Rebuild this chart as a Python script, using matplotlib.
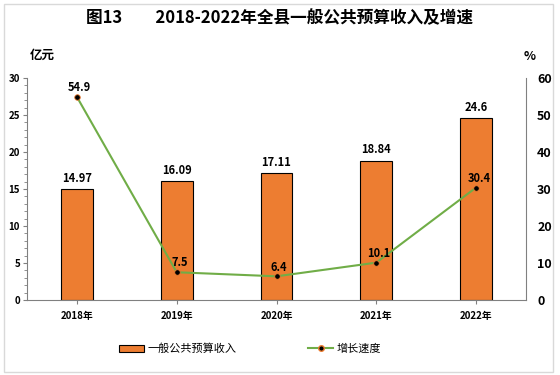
import matplotlib
matplotlib.use("Agg")
import matplotlib.pyplot as plt
from matplotlib.patches import Rectangle
from matplotlib.lines import Line2D
from matplotlib.ticker import MultipleLocator

plt.rcParams['font.family'] = ['Noto Sans CJK SC', 'DejaVu Sans']

years = ['2018年', '2019年', '2020年', '2021年', '2022年']
revenue = [14.97, 16.09, 17.11, 18.84, 24.6]
growth = [54.9, 7.5, 6.4, 10.1, 30.4]
rev_labels = ['14.97', '16.09', '17.11', '18.84', '24.6']
growth_labels = ['54.9', '7.5', '6.4', '10.1', '30.4']

fig = plt.figure(figsize=(5.6, 3.75), dpi=100)
fig.patches.append(Rectangle((4/560, 3/375), 549/560, 368/375, transform=fig.transFigure,
                             fill=False, edgecolor='#d9d9d9', lw=1))

ax = fig.add_axes([27/560, 1-300/375, 499/560, 222/375])
x = list(range(len(years)))
ax.bar(x, revenue, width=0.32, color='#ED7D31', edgecolor='black', lw=0.8, zorder=2)
ax.set_xlim(-0.5, 4.5)
ax.set_ylim(0, 30)
ax.yaxis.set_major_locator(MultipleLocator(5))
ax.yaxis.set_minor_locator(MultipleLocator(1))
for s in ['top', 'right']:
    ax.spines[s].set_visible(False)
ax.spines['left'].set_color('#808080')
ax.spines['bottom'].set_color('#808080')
ax.tick_params(axis='y', which='major', length=3, color='#808080', labelsize=7, pad=2)
ax.tick_params(axis='y', which='minor', length=2, color='#808080')
ax.tick_params(axis='x', length=3, color='#808080', labelsize=7, pad=5)
ax.set_xticks(x)
ax.set_xticklabels(years, fontweight='bold')
for lab in ax.get_yticklabels():
    lab.set_fontweight('bold')
for xi, v, t in zip(x, revenue, rev_labels):
    ax.annotate(t, (xi, v), xytext=(0, 3), textcoords='offset points', ha='center', va='bottom',
                fontsize=8, fontweight='bold')

ax2 = ax.twinx()
ax2.plot(x, growth, color='#70AD47', lw=1.5, marker='o', markersize=4,
         markerfacecolor='black', markeredgecolor='#ED7D31', markeredgewidth=0.6, zorder=3)
ax2.set_ylim(0, 60)
ax2.yaxis.set_major_locator(MultipleLocator(10))
for s in ['top', 'left', 'bottom']:
    ax2.spines[s].set_visible(False)
ax2.spines['right'].set_color('#808080')
ax2.tick_params(axis='y', length=0, labelsize=9, pad=8)
for lab in ax2.get_yticklabels():
    lab.set_fontweight('bold')
for xi, v, t in zip(x, growth, growth_labels):
    ax2.annotate(t, (xi, v), xytext=(2, 2), textcoords='offset points', ha='center', va='bottom',
                 fontsize=8, fontweight='bold')

fig.text(0.5, 1-18/375, '图13\u3000\u30002018-2022年全县一般公共预算收入及增速', ha='center', va='center',
         fontsize=12, fontweight='bold')
fig.text(42/560, 1-55/375, '亿元', ha='center', va='center', fontsize=9, fontweight='bold')
fig.text(530/560, 1-56/375, '%', ha='center', va='center', fontsize=9, fontweight='bold')

handles = [Rectangle((0, 0), 1, 1, facecolor='#ED7D31', edgecolor='black', lw=0.8),
           Line2D([0], [0], color='#70AD47', lw=1.5, marker='o', markersize=4,
                  markerfacecolor='black', markeredgecolor='#ED7D31')]
fig.legend(handles, ['一般公共预算收入', '增长速度'], loc='center', bbox_to_anchor=(250/560, 1-349/375),
           ncol=2, frameon=False, fontsize=8, columnspacing=6.5, handlelength=2.2, handletextpad=0.3)

fig.savefig('out.png', dpi=100)
